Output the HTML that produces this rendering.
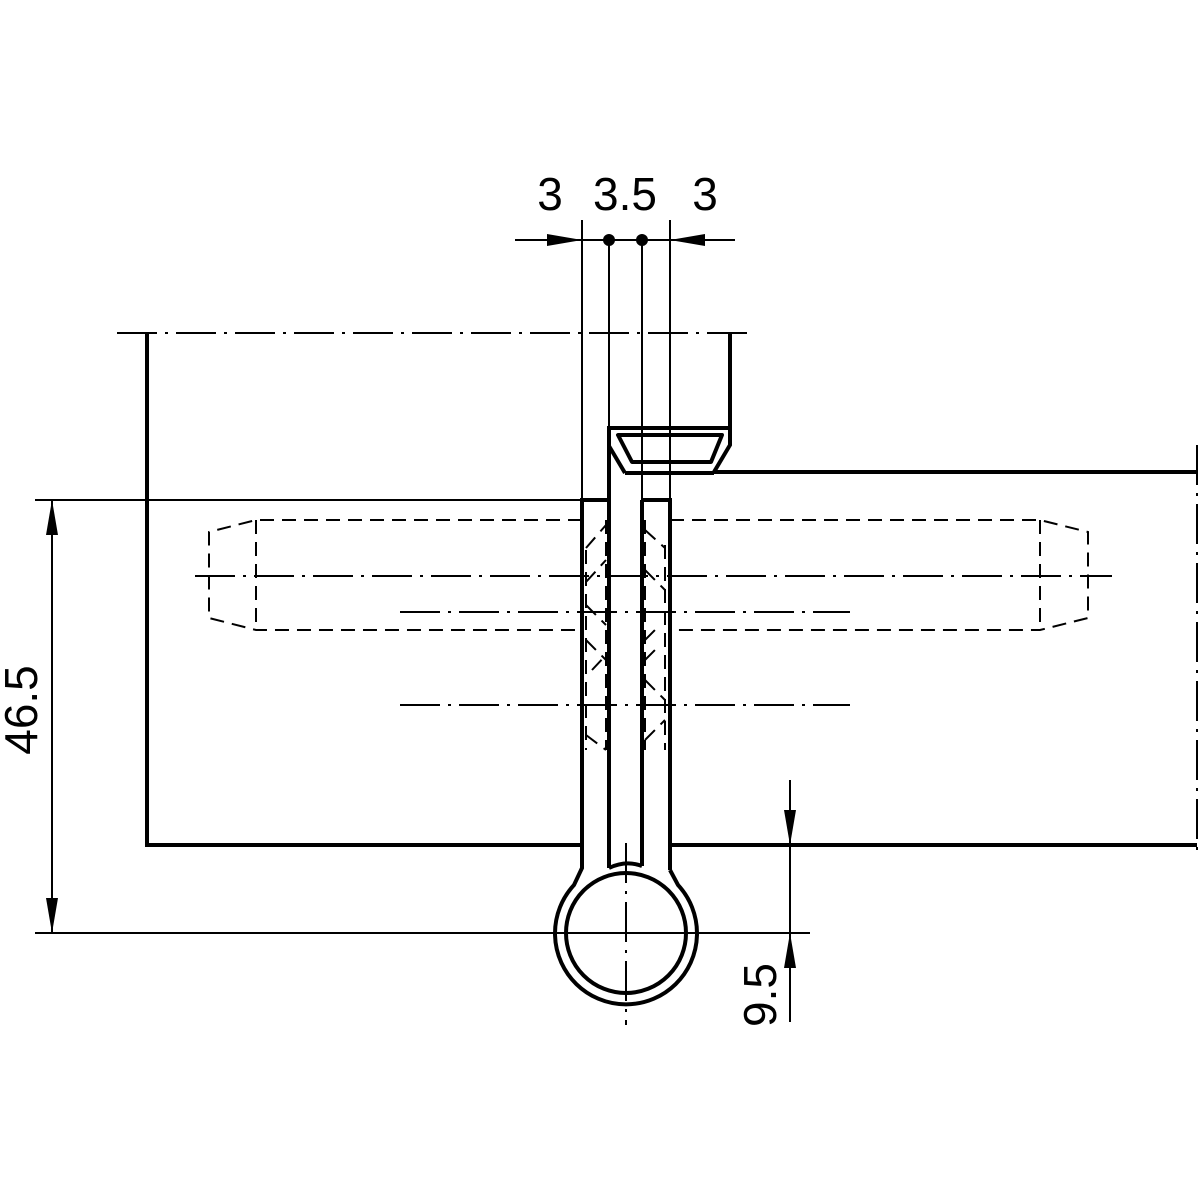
<!DOCTYPE html>
<html><head><style>html,body{margin:0;padding:0;background:#fff}svg{display:block}</style></head>
<body>
<svg width="1200" height="1200" viewBox="0 0 1200 1200" xmlns="http://www.w3.org/2000/svg">
<rect width="1200" height="1200" fill="#fff"/>
<g stroke="#000" fill="none" stroke-linecap="butt">
<!-- dash-dot center lines (thin) -->
<g stroke-width="2" stroke-dasharray="40,8,3,8">
<line x1="117" y1="333" x2="755" y2="333"/>
<line x1="195" y1="576" x2="1112" y2="576"/>
<line x1="400" y1="612" x2="850" y2="612"/>
<line x1="400" y1="705" x2="850" y2="705"/>
<line x1="1197" y1="445" x2="1197" y2="852"/>
<line x1="626" y1="843" x2="626" y2="1025"/>
</g>
<!-- thin construction/dimension lines -->
<g stroke-width="2">
<line x1="35" y1="500" x2="582" y2="500"/>
<line x1="35" y1="933" x2="810" y2="933"/>
<line x1="52" y1="500" x2="52" y2="933"/>
<line x1="790" y1="780" x2="790" y2="1022"/>
<line x1="515" y1="240" x2="735" y2="240"/>
<line x1="582" y1="220" x2="582" y2="500"/>
<line x1="609" y1="240" x2="609" y2="428"/>
<line x1="642" y1="240" x2="642" y2="500"/>
<line x1="670" y1="220" x2="670" y2="500"/>
</g>
<!-- thick outlines -->
<g stroke-width="4" stroke-linejoin="miter">
<polyline points="147,333 147,845 582,845"/>
<line x1="670" y1="845" x2="1197" y2="845"/>
<polyline points="730,333 730,445 714,472 1197,472"/>
<polyline points="625,473 609,446 609,428 730,428"/>
<line x1="625" y1="473" x2="714" y2="473"/>
<path d="M618,435 L722,435 L711,462 L632,462 Z" stroke-linejoin="round"/>
<polyline points="582,845 582,500 609,500"/>
<polyline points="642,500 670,500 670,870"/>
<line x1="609" y1="446" x2="609" y2="868"/>
<line x1="642" y1="500" x2="642" y2="866"/>
<path d="M582,845 L582,868 L574,885 A71,71 0 1 0 678,885 L670,870"/>
<circle cx="626" cy="933" r="60"/>
<path d="M609,868 Q626,860 642,866"/>
</g>
<!-- dashed hidden lines -->
<g stroke-width="2" stroke-dasharray="14,8">
<path d="M582,520 L256,520 L209,532 L209,618 L256,630 L582,630"/>
<line x1="256" y1="520" x2="256" y2="630"/>
<path d="M670,520 L1040,520 L1088,532 L1088,618 L1040,630 L670,630"/>
<line x1="1040" y1="520" x2="1040" y2="630"/>
<line x1="586" y1="550" x2="586" y2="750"/>
<line x1="606" y1="520" x2="606" y2="750"/>
<line x1="645" y1="520" x2="645" y2="750"/>
<line x1="665" y1="545" x2="665" y2="750"/>
<path d="M586,548 L606,525 M586,582 L606,560 M586,605 L606,625 M586,640 L606,660 M592,670 L606,655 M586,735 L606,750"/>
<path d="M645,530 L665,548 M645,570 L665,590 M645,640 L660,625 M645,660 L660,645 M645,680 L665,700 M645,740 L665,720"/>
</g>
</g>
<!-- arrowheads -->
<g fill="#000">
<polygon points="52,500 46,535 58,535"/>
<polygon points="52,933 46,898 58,898"/>
<polygon points="790,845 784,810 796,810"/>
<polygon points="790,933 784,968 796,968"/>
<polygon points="582,240 547,234 547,246"/>
<polygon points="670,240 705,234 705,246"/>
<circle cx="609" cy="240" r="6"/>
<circle cx="642" cy="240" r="6"/>
</g>
<g font-family="Liberation Sans, sans-serif" font-size="46" fill="#000" text-anchor="middle">
<text x="550" y="210">3</text>
<text x="625" y="210">3.5</text>
<text x="705" y="210">3</text>
<text transform="translate(37,710) rotate(-90)">46.5</text>
<text transform="translate(776,995) rotate(-90)">9.5</text>
</g>
</svg>
</body></html>
